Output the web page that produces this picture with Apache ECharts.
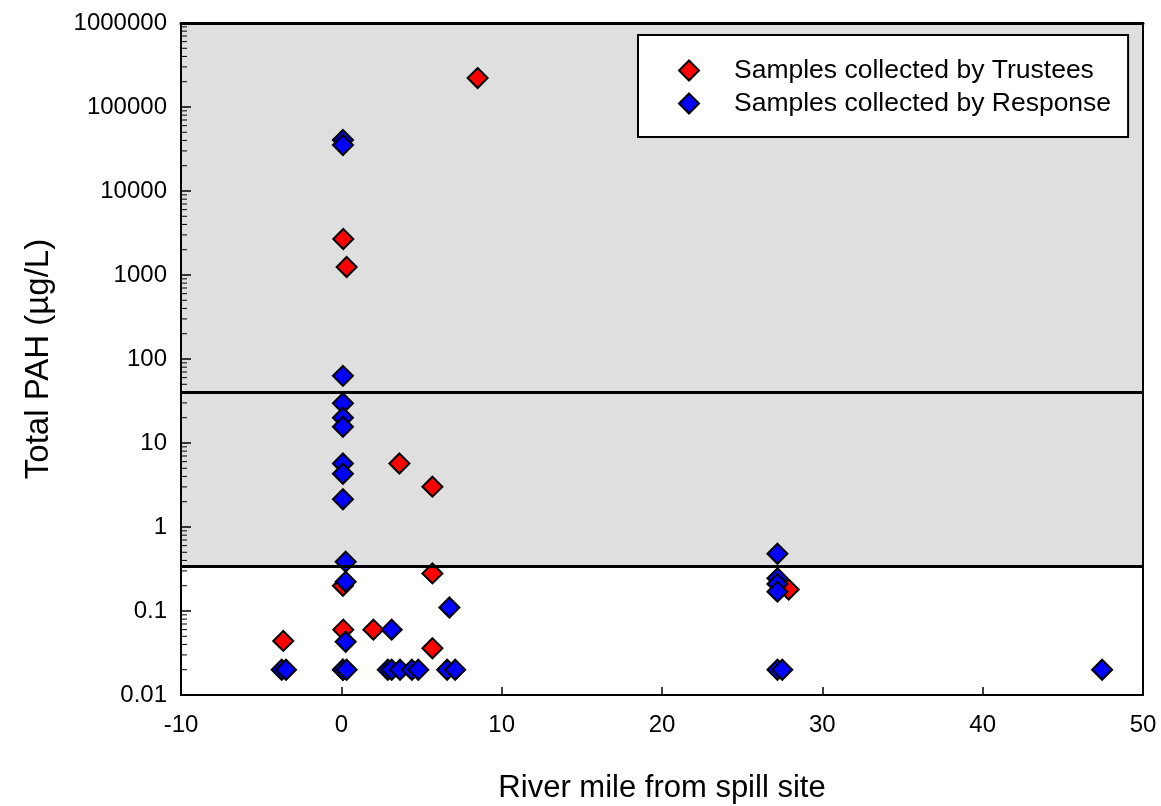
<!DOCTYPE html>
<html>
<head>
<meta charset="utf-8">
<script src="https://cdn.jsdelivr.net/npm/echarts@6/dist/echarts.min.js"></script>
<style>
  html, body { margin: 0; padding: 0; background: #fff; }
  #main { width: 1161px; height: 806px; }
</style>
</head>
<body>
<div id="main"></div>
<script>
// river mile / total PAH
var trusteeMile = [8.5, 0.12, 0.33, 3.62, 5.68, 5.68, 0.1, 0.12, 2.0, -3.62, 5.68, 27.9, 0.1];
var trusteePah = [221000, 2680, 1245, 5.7, 3.02, 0.28, 0.2, 0.06, 0.06, 0.044, 0.036, 0.18, 0.02];

var responseMile = [0.1, 0.1, 0.1, 0.1, 0.1, 0.1, 0.1, 0.1, 0.1, 0.27, 0.27, 0.27,
    3.14, 6.74, 27.2, 27.2, 27.2, 27.2,
    -3.72, -3.45, 0.1, 0.33, 2.9, 3.14, 3.66, 4.4, 4.8, 6.6, 7.1, 27.2, 27.5, 47.45];
var responsePah = [40500, 35300, 63, 29.7, 20, 15.6, 5.7, 4.3, 2.14, 0.386, 0.223, 0.043,
    0.06, 0.11, 0.48, 0.245, 0.21, 0.17,
    0.02, 0.02, 0.02, 0.02, 0.02, 0.02, 0.02, 0.02, 0.02, 0.02, 0.02, 0.02, 0.02, 0.02];

var upperLimit = 40;
var lowerLimit = 0.34;
var xTicks = [-10, 0, 10, 20, 30, 40, 50];
var yTicks = [0.01, 0.1, 1, 10, 100, 1000, 10000, 100000, 1000000];

var seriesNames = ['Samples collected by Trustees', 'Samples collected by Response'];

function pairs(xs, ys) {
    var out = [];
    for (var i = 0; i < xs.length; i++) out.push([xs[i], ys[i]]);
    return out;
}

// minor ticks 2..9 in each decade
var minorTicks = [];
for (var d = 0; d < yTicks.length - 1; d++) {
    for (var m = 2; m <= 9; m++) minorTicks.push([xTicks[0], +(yTicks[d] * m).toPrecision(6)]);
}

var myChart = echarts.init(document.getElementById('main'));

var baseFont = 'Arial, "Liberation Sans", sans-serif';

var option = {
    backgroundColor: '#fff',
    animation: false,
    textStyle: { fontFamily: baseFont, color: '#000' },
    grid: { left: 181, right: 18, top: 23, bottom: 111, outerBoundsMode: 'none' },
    legend: {
        data: seriesNames,
        orient: 'vertical',
        left: 638,
        top: 35,
        padding: [22, 17, 20, 40],
        itemGap: 6,
        itemWidth: 20,
        itemHeight: 20,
        backgroundColor: '#fff',
        borderColor: '#000',
        borderWidth: 2,
        borderRadius: 0,
        textStyle: { fontSize: 26.5, color: '#000', fontFamily: baseFont, padding: [0, 0, 0, 30] }
    },
    xAxis: [{
        type: 'value',
        min: -10, max: 50, interval: 10,
        z: 5,
        name: 'River mile from spill site',
        nameLocation: 'middle',
        nameGap: 78,
        nameTextStyle: { fontSize: 31, color: '#000' },
        axisLine: { onZero: false, lineStyle: { color: '#000', width: 2 } },
        axisTick: { inside: true, length: 8, lineStyle: { color: '#000', width: 1.5 } },
        axisLabel: { fontSize: 24, color: '#000', margin: 18 },
        splitLine: { show: false }
    }, {
        type: 'value',
        position: 'top',
        min: -10, max: 50, interval: 10,
        z: 5,
        axisLine: { show: true, onZero: false, lineStyle: { color: '#000', width: 3 } },
        axisTick: { show: false },
        axisLabel: { show: false },
        splitLine: { show: false }
    }],
    yAxis: [{
        type: 'log',
        logBase: 10,
        min: 0.01, max: 1000000,
        splitNumber: 8,
        z: 5,
        name: 'Total PAH (µg/L)',
        nameLocation: 'middle',
        nameGap: 126,
        nameTextStyle: { fontSize: 33, color: '#000' },
        axisLine: { show: true, onZero: false, lineStyle: { color: '#000', width: 2 } },
        axisTick: { inside: true, length: 10, lineStyle: { color: '#000', width: 1.5 } },
        axisLabel: {
            fontSize: 24, color: '#000', margin: 14,
            formatter: function (v) { return String(+(+v).toPrecision(6)); }
        },
        splitLine: { show: false }
    }, {
        type: 'log',
        logBase: 10,
        position: 'right',
        min: 0.01, max: 1000000,
        z: 5,
        axisLine: { show: true, onZero: false, lineStyle: { color: '#000', width: 2 } },
        axisTick: { show: false },
        axisLabel: { show: false },
        splitLine: { show: false }
    }],
    series: [{
        name: 'limits',
        type: 'scatter',
        data: [],
        z: 1,
        silent: true,
        markArea: {
            silent: true,
            itemStyle: { color: '#dfdfdf' },
            data: [[{ yAxis: lowerLimit }, { yAxis: yTicks[yTicks.length - 1] }]]
        },
        markLine: {
            silent: true,
            symbol: 'none',
            label: { show: false },
            lineStyle: { color: '#000', width: 3, type: 'solid' },
            data: [{ yAxis: upperLimit }, { yAxis: lowerLimit }]
        }
    }, {
        name: 'minor',
        type: 'custom',
        z: 6,
        silent: true,
        clip: false,
        data: minorTicks,
        renderItem: function (params, api) {
            var p = api.coord([api.value(0), api.value(1)]);
            return {
                type: 'line',
                shape: { x1: p[0], y1: p[1], x2: p[0] + 6, y2: p[1] },
                style: { stroke: '#000', lineWidth: 1 }
            };
        }
    }, {
        name: seriesNames[0],
        type: 'scatter',
        symbol: 'diamond',
        symbolSize: 20,
        z: 3,
        itemStyle: { color: '#ff0000', borderColor: '#000', borderWidth: 2, opacity: 1 },
        data: pairs(trusteeMile, trusteePah)
    }, {
        name: seriesNames[1],
        type: 'scatter',
        symbol: 'diamond',
        symbolSize: 20,
        z: 4,
        itemStyle: { color: '#0000ff', borderColor: '#000', borderWidth: 2, opacity: 1 },
        data: pairs(responseMile, responsePah)
    }]
};

myChart.setOption(option);
</script>
</body>
</html>
